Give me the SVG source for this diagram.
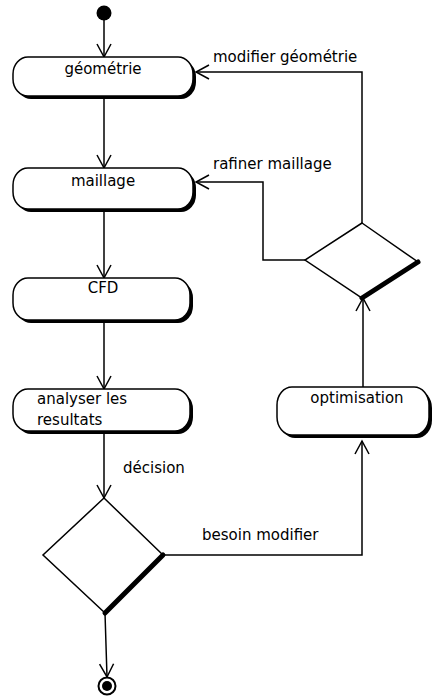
<svg xmlns="http://www.w3.org/2000/svg" width="432" height="699" viewBox="0 0 432 699">
  <style>
    .lbl { font-family: "DejaVu Sans", "Liberation Sans", sans-serif; font-size: 15px; fill: #000; }
    .box { fill: #fff; stroke: #000; stroke-width: 1.5; }
    .shadow { fill: #000; }
    .edge { fill: none; stroke: #000; stroke-width: 1.5; }
    .dia { fill: #fff; stroke: #000; stroke-width: 1.5; }
    .diaEdge { fill: none; stroke: #000; stroke-width: 5; stroke-linecap: round; }
  </style>
  <defs>
    <marker id="open" markerUnits="userSpaceOnUse" markerWidth="20" markerHeight="20" refX="15" refY="8" orient="auto" viewBox="0 0 20 16">
      <path d="M2,1 L15,8 L2,15" fill="none" stroke="#000" stroke-width="1.5"/>
    </marker>
  </defs>
  <rect width="432" height="699" fill="#fff"/>

  <!-- connectors -->
  <g id="connectors">
    <path class="edge" d="M104,19 L104,57" marker-end="url(#open)"/>
    <path class="edge" d="M104,98 L104,168" marker-end="url(#open)"/>
    <path class="edge" d="M104,212 L104,278" marker-end="url(#open)"/>
    <path class="edge" d="M104,323 L104,389" marker-end="url(#open)"/>
    <path class="edge" d="M104,434 L104,498" marker-end="url(#open)"/>
    <path class="edge" d="M105,613 L107,677" marker-end="url(#open)"/>
    <path class="edge" d="M163,555 L362,555 L362,441" marker-end="url(#open)"/>
    <path class="edge" d="M363,387 L363,298" marker-end="url(#open)"/>
    <path class="edge" d="M362,223 L362,72 L196,72" marker-end="url(#open)"/>
    <path class="edge" d="M305,260 L263,260 L263,182 L196,182" marker-end="url(#open)"/>
    <text class="lbl" x="123" y="473">décision</text>
    <text class="lbl" x="202" y="540">besoin modifier</text>
    <text class="lbl" x="213" y="62">modifier géométrie</text>
    <text class="lbl" x="213" y="169">rafiner maillage</text>
  </g>

  <!-- start -->
  <g id="start">
    <circle cx="104" cy="13" r="7.5" fill="#000"/>
  </g>

  <g id="geometrie">
    <rect class="shadow" x="16" y="60" width="180" height="39" rx="15" ry="17"/>
    <rect class="box" x="13" y="57" width="180" height="39" rx="15" ry="17"/>
    <text class="lbl" x="103" y="74" text-anchor="middle">géométrie</text>
  </g>

  <g id="maillage">
    <rect class="shadow" x="16" y="171" width="180" height="41" rx="15" ry="17"/>
    <rect class="box" x="13" y="168" width="180" height="41" rx="15" ry="17"/>
    <text class="lbl" x="103" y="186" text-anchor="middle">maillage</text>
  </g>

  <g id="cfd">
    <rect class="shadow" x="16" y="281" width="177" height="42" rx="15" ry="17"/>
    <rect class="box" x="13" y="278" width="177" height="42" rx="15" ry="17"/>
    <text class="lbl" x="103" y="293" text-anchor="middle">CFD</text>
  </g>

  <g id="analyser">
    <rect class="shadow" x="16" y="392" width="177" height="42" rx="15" ry="17"/>
    <rect class="box" x="13" y="389" width="177" height="42" rx="15" ry="17"/>
    <text class="lbl" x="37" y="404">analyser les</text>
    <text class="lbl" x="37" y="425">resultats</text>
  </g>

  <g id="decision">
    <path class="dia" d="M104,498 L163,555 L105,613 L43,555 Z"/>
    <path class="diaEdge" d="M163,555 L105,613"/>
  </g>

  <g id="optimisation">
    <rect class="shadow" x="280" y="390" width="152" height="48" rx="15" ry="18"/>
    <rect class="box" x="277" y="387" width="152" height="48" rx="15" ry="18"/>
    <text class="lbl" x="357" y="403" text-anchor="middle">optimisation</text>
  </g>

  <g id="choix">
    <path class="dia" d="M362,223 L418,262 L362,298 L305,260 Z"/>
    <path class="diaEdge" d="M418,262 L362,298"/>
  </g>

  <g id="end">
    <circle cx="107" cy="686" r="8.5" fill="#fff" stroke="#000" stroke-width="2"/>
    <circle cx="107" cy="686" r="5" fill="#000"/>
  </g>
</svg>
